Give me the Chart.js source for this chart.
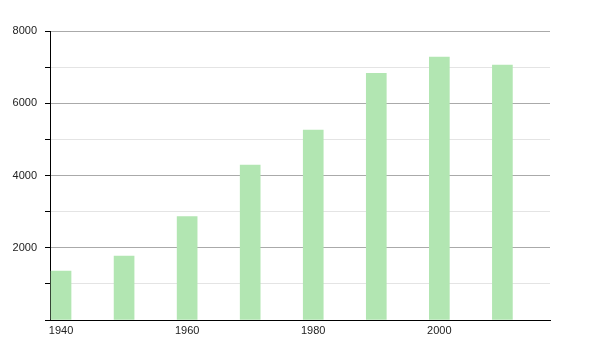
<!DOCTYPE html>
<html>
<head>
<meta charset="utf-8">
<script src="https://cdn.jsdelivr.net/npm/chart.js@4/dist/chart.umd.min.js"></script>
<style>
	body { margin:0; background:#fff; }
	#wrap { width:600px; height:350px; }
</style>
</head>
<body>
<div id="wrap"><canvas id="myChart" width="600" height="350"></canvas></div>
<script>
var years=[1940,1950,1960,1970,1980,1990,2000,2010];
var population=[1357,1770,2860,4290,5260,6830,7280,7060];
var xTicks=[1940,1960,1980,2000];
var yLabels=[2000,4000,6000,8000];

function buildPoints()
{
	//bars sit on a linear year scale
	var points=[];
	for(var i=0;i<years.length;i++)
	{
		points.push({x:years[i],y:population[i]});
	}
	return points;
}

function createChart()
{
	var ctx = document.getElementById('myChart').getContext('2d');
	Chart.defaults.font.family = "'Liberation Sans', Arial, sans-serif";
	Chart.defaults.font.size = 11;
	Chart.defaults.color = '#222';

	barChart = new Chart(ctx,{
		type:'bar',
		data:{
			datasets:[{
				data:buildPoints(),
				backgroundColor:'rgb(178,230,178)',
				borderWidth:0,
				barThickness:20
			}]
		},
		options:{
			responsive:false,
			animation:false,
			events:[],
			layout:{padding:{top:31,right:50,left:0,bottom:0}},
			plugins:{legend:{display:false},tooltip:{enabled:false}},
			scales:{
				x:{
					type:'linear',
					offset:false,
					min:1938.25,
					max:2017.55,
					grid:{display:false,drawTicks:false,offset:false},
					border:{display:true,color:'#000',width:1},
					afterBuildTicks:function(scale){
						scale.ticks = xTicks.map(function(v){ return {value:v}; });
					},
					afterFit:function(scale){ scale.height = 30; },
					ticks:{
						padding:4,
						maxRotation:0,
						autoSkip:false,
						callback:function(v){ return String(v); }
					}
				},
				y:{
					min:0,
					max:8000,
					afterFit:function(scale){ scale.width = 50; },
					grid:{
						color:function(c){
							if(c.tick && yLabels.indexOf(c.tick.value) >= 0) return '#aaaaaa';
							return '#e4e4e4';
						},
						tickColor:'#000',
						tickLength:5
					},
					border:{display:true,color:'#000',width:1},
					ticks:{
						stepSize:1000,
						padding:8,
						callback:function(v){
							if(yLabels.indexOf(v) >= 0) return String(v);
							return '';
						}
					}
				}
			}
		}
	});
}

createChart();
</script>
</body>
</html>
